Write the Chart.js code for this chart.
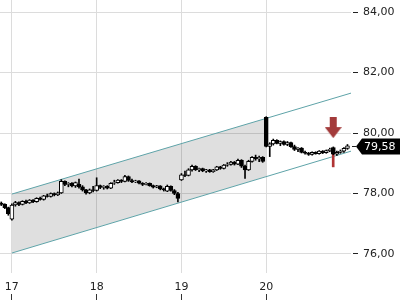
<!DOCTYPE html>
<html><head><meta charset="utf-8">
<script src="https://cdn.jsdelivr.net/npm/chart.js@4"></script>
<style>html,body{margin:0;padding:0;background:#fff}canvas{display:block}</style>
</head><body>
<canvas id="c" width="400" height="300"></canvas>
<script>
// ---- data ----
const dayTicks = [17, 18, 19, 20];
const priceTicks = [76, 78, 80, 82, 84];
const firstCandleTime = 16.875;
const candleStep = 1 / 24;
const opens = [77.68,77.64,77.53,77.15,77.62,77.70,77.64,77.74,77.69,77.78,
  77.73,77.84,77.80,77.92,77.90,78.00,77.95,78.02,78.40,78.30,
  78.34,78.25,78.30,78.22,78.12,78.02,78.12,78.10,78.26,78.20,
  78.24,78.18,78.34,78.36,78.44,78.40,78.56,78.43,78.38,78.42,
  78.34,78.30,78.34,78.26,78.21,78.25,78.15,78.08,78.24,78.10,
  78.00,78.45,78.62,78.60,78.78,78.90,78.79,78.82,78.75,78.78,
  78.72,78.78,78.88,78.83,78.94,78.96,79.04,78.97,79.10,78.90,
  78.78,79.06,79.20,79.14,79.20,80.52,79.56,79.64,79.76,79.66,
  79.72,79.62,79.68,79.55,79.46,79.50,79.36,79.33,79.29,79.36,
  79.32,79.40,79.35,79.42,79.52,79.30,79.36,79.40,79.49];
const highs = [77.72,77.66,77.55,77.66,77.74,77.72,77.76,77.78,77.80,77.80,
  77.86,77.88,77.94,77.98,78.02,78.02,78.05,78.46,78.42,78.36,
  78.36,78.38,78.48,78.26,78.14,78.15,78.24,78.52,78.28,78.26,
  78.26,78.36,78.44,78.46,78.46,78.60,78.58,78.48,78.44,78.43,
  78.36,78.36,78.35,78.28,78.27,78.26,78.18,78.28,78.25,78.13,
  78.04,78.66,78.74,78.82,78.94,78.92,78.84,78.84,78.80,78.80,
  78.80,78.90,78.90,78.96,79.02,79.06,79.06,79.14,79.12,78.94,
  79.10,79.22,79.27,79.24,79.22,80.54,79.68,79.80,79.78,79.74,
  79.74,79.72,79.70,79.60,79.52,79.52,79.40,79.36,79.38,79.38,
  79.42,79.42,79.44,79.50,79.54,79.40,79.44,79.52,79.62];
const lows = [77.60,77.50,77.28,77.12,77.58,77.60,77.62,77.66,77.67,77.70,
  77.71,77.78,77.78,77.88,77.88,77.92,77.93,78.00,78.26,78.22,
  78.22,78.20,78.18,78.08,77.98,77.99,78.05,78.08,78.16,78.14,
  78.15,78.16,78.30,78.34,78.36,78.38,78.40,78.36,78.36,78.32,
  78.26,78.28,78.24,78.18,78.19,78.12,78.08,78.06,78.08,77.96,
  77.72,78.43,78.56,78.58,78.74,78.76,78.72,78.72,78.70,78.70,
  78.70,78.76,78.80,78.81,78.90,78.94,78.94,78.95,78.86,78.50,
  78.76,79.04,79.10,79.05,79.03,79.54,79.22,79.60,79.64,79.58,
  79.60,79.58,79.52,79.42,79.38,79.34,79.30,79.26,79.27,79.30,
  79.30,79.32,79.33,79.38,79.28,79.26,79.33,79.36,79.46];
const closes = [77.64,77.53,77.33,77.62,77.70,77.64,77.74,77.69,77.78,77.73,
  77.84,77.80,77.92,77.90,78.00,77.95,78.02,78.40,78.30,78.34,
  78.25,78.36,78.22,78.12,78.02,78.12,78.10,78.26,78.20,78.24,
  78.18,78.34,78.36,78.44,78.40,78.56,78.43,78.38,78.42,78.34,
  78.30,78.34,78.26,78.21,78.25,78.15,78.12,78.24,78.10,78.00,
  77.84,78.62,78.60,78.78,78.90,78.79,78.82,78.75,78.78,78.72,
  78.78,78.88,78.83,78.94,78.96,79.04,78.97,79.10,78.90,78.78,
  79.06,79.20,79.14,79.20,79.06,79.56,79.64,79.76,79.66,79.72,
  79.62,79.68,79.55,79.46,79.50,79.36,79.33,79.29,79.36,79.32,
  79.40,79.35,79.42,79.46,79.30,79.36,79.40,79.49,79.58];
const channelX = [17, 21];
const channelUpper = [77.98, 81.32];
const channelLower = [76.03, 79.40];
const fillX = [17, 20];
const fillUpper = [77.98, 80.49];
const fillLower = [76.03, 78.56];
const markerTime = 20.79;
const markerRange = [78.88, 79.44];
const arrowTime = 20.79;
const arrowPrice = 80.18;
const lastPrice = 79.58;

// ---- helpers ----
const fmt = v => Number(v).toFixed(2).replace('.', ',');
const times = opens.map((_, i) => firstCandleTime + i * candleStep);

const arrowImg = document.createElement('canvas');
arrowImg.width = 17; arrowImg.height = 21;
(() => {
  const a = arrowImg.getContext('2d');
  a.fillStyle = '#a33b3b';
  a.beginPath();
  a.moveTo(5, 0); a.lineTo(12, 0); a.lineTo(12, 10); a.lineTo(17, 10);
  a.lineTo(8.5, 21); a.lineTo(0, 10); a.lineTo(5, 10); a.closePath(); a.fill();
})();

Chart.defaults.font.family = '"DejaVu Sans", sans-serif';
Chart.defaults.font.size = 11;
Chart.defaults.color = '#222';

const priceTag = {
  id: 'priceTag',
  afterDraw(chart) {
    const {ctx, chartArea, scales} = chart;
    const py = Math.round(scales.y.getPixelForValue(lastPrice));
    const r = chartArea.right;
    ctx.save();
    ctx.strokeStyle = '#222'; ctx.lineWidth = 1;
    ctx.beginPath(); ctx.moveTo(r + 1, py + 0.5); ctx.lineTo(r + 5, py + 0.5); ctx.stroke();
    ctx.fillStyle = '#000';
    ctx.beginPath();
    ctx.moveTo(r + 5, py + 0.5); ctx.lineTo(r + 11, py - 7.5); ctx.lineTo(400, py - 7.5);
    ctx.lineTo(400, py + 8.5); ctx.lineTo(r + 11, py + 8.5); ctx.closePath(); ctx.fill();
    ctx.fillStyle = '#fff'; ctx.font = '11px "DejaVu Sans"'; ctx.textBaseline = 'middle';
    ctx.fillText(fmt(lastPrice), r + 13, py + 1);
    ctx.restore();
  }
};

const setTicks = arr => s => { s.ticks = arr.map(v => ({value: v})); };

new Chart(document.getElementById('c'), {
  type: 'bar',
  data: {
    datasets: [
      {type: 'line', data: fillX.map((x, i) => ({x, y: fillUpper[i]})), borderWidth: 0,
        pointRadius: 0, fill: '+1', backgroundColor: 'rgba(0,0,0,0.125)', order: 10},
      {type: 'line', data: fillX.map((x, i) => ({x, y: fillLower[i]})), borderWidth: 0,
        pointRadius: 0, fill: false, order: 10},
      {type: 'line', data: channelX.map((x, i) => ({x, y: channelUpper[i]})), borderColor: '#5ea3a8',
        borderWidth: 1, pointRadius: 0, fill: false, order: 9},
      {type: 'line', data: channelX.map((x, i) => ({x, y: channelLower[i]})), borderColor: '#5ea3a8',
        borderWidth: 1, pointRadius: 0, fill: false, order: 9},
      {type: 'bar', data: [{x: markerTime, y: markerRange}], backgroundColor: '#b03434',
        barThickness: 2, grouped: false, order: 4},
      {type: 'bar', data: times.map((x, i) => ({x, y: [lows[i], highs[i]]})), backgroundColor: '#000',
        barThickness: 1, grouped: false, order: 3},
      {type: 'bar', data: times.map((x, i) => ({x, y: [opens[i], closes[i]]})),
        backgroundColor: closes.map((c, i) => c >= opens[i] ? '#fff' : '#000'),
        borderColor: '#000', borderWidth: 1, borderSkipped: false,
        barThickness: 4, grouped: false, order: 2},
      {type: 'line', data: [{x: arrowTime, y: arrowPrice}], showLine: false,
        pointStyle: arrowImg, pointRadius: 10, order: 1}
    ]
  },
  options: {
    responsive: false, animation: false,
    layout: {padding: 0, autoPadding: false},
    plugins: {legend: {display: false}, tooltip: {enabled: false}},
    scales: {
      x: {
        type: 'linear', position: 'bottom', min: 16.86, max: 21.0, offset: false,
        afterBuildTicks: setTicks(dayTicks),
        grid: {color: '#dcdcdc', drawTicks: false, offset: false},
        border: {display: false},
        ticks: {padding: 8, color: '#222', callback: v => String(v)},
        afterFit: s => { s.height = 21; s.paddingLeft = 0; s.paddingRight = 0; }
      },
      x2: {
        type: 'linear', position: 'bottom', min: 16.86, max: 21.0, offset: false,
        afterBuildTicks: setTicks(dayTicks),
        grid: {drawOnChartArea: false, drawTicks: true, tickLength: 6, tickColor: '#333', offset: false},
        border: {display: false},
        ticks: {display: false},
        afterFit: s => { s.height = 6; s.paddingLeft = 0; s.paddingRight = 0; }
      },
      y: {
        type: 'linear', position: 'right', min: 75.37, max: 84.40,
        afterBuildTicks: setTicks(priceTicks),
        grid: {color: '#dcdcdc', tickLength: 8, tickColor: '#222', tickBorderDash: [0, 2, 5, 40]},
        border: {display: false},
        ticks: {padding: 4, color: '#222', callback: v => fmt(v)},
        afterFit: s => { s.width = 49; s.paddingTop = 0; s.paddingBottom = 0; }
      }
    }
  },
  plugins: [priceTag]
});
</script>
</body></html>
